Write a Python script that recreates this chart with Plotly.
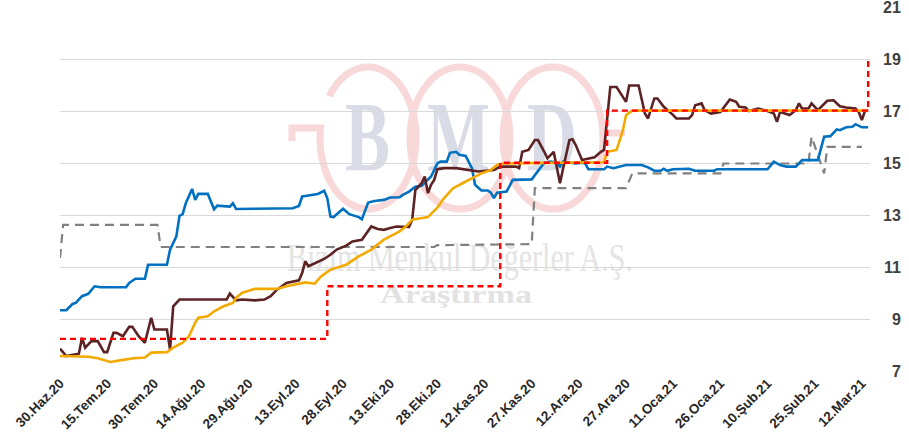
import base64
import plotly.graph_objects as go

# ---------------- data ----------------
blue_dates = ["2020-06-30","2020-07-02","2020-07-04","2020-07-05","2020-07-07","2020-07-09","2020-07-11","2020-07-13",
    "2020-07-21","2020-07-22","2020-07-24","2020-07-27","2020-07-28","2020-08-03","2020-08-04","2020-08-06","2020-08-07",
    "2020-08-08","2020-08-09","2020-08-11","2020-08-12","2020-08-13","2020-08-16","2020-08-18","2020-08-19","2020-08-23",
    "2020-08-24","2020-08-25","2020-08-31","2020-09-12","2020-09-14","2020-09-15","2020-09-16","2020-09-18","2020-09-20",
    "2020-09-22","2020-09-23","2020-09-24","2020-09-25","2020-09-28","2020-09-30","2020-10-03","2020-10-04","2020-10-06",
    "2020-10-08","2020-10-11","2020-10-13","2020-10-16","2020-10-17","2020-10-19","2020-10-21","2020-10-23","2020-10-25",
    "2020-10-26","2020-10-28","2020-10-29","2020-10-31","2020-11-01","2020-11-03","2020-11-04","2020-11-06","2020-11-07",
    "2020-11-08","2020-11-09","2020-11-11","2020-11-13","2020-11-14","2020-11-15","2020-11-16","2020-11-19","2020-11-21",
    "2020-11-27","2020-11-29","2020-12-01","2020-12-03","2020-12-05","2020-12-06","2020-12-07","2020-12-11","2020-12-13",
    "2020-12-14","2020-12-15","2020-12-20","2020-12-21","2020-12-23","2020-12-25","2020-12-27","2021-01-01","2021-01-03",
    "2021-01-05","2021-01-07","2021-01-08","2021-01-09","2021-01-11","2021-01-16","2021-01-18","2021-01-24","2021-01-25",
    "2021-02-10","2021-02-12","2021-02-14","2021-02-16","2021-02-19","2021-02-21","2021-02-26","2021-02-28","2021-03-02",
    "2021-03-04","2021-03-05","2021-03-07","2021-03-09","2021-03-10","2021-03-12","2021-03-14"]
blue_values = [9.36,9.36,9.6,9.64,9.9,9.99,10.28,10.24,
    10.24,10.41,10.57,10.57,11.11,11.11,11.69,12.2,12.99,
    13.05,13.47,14.02,13.6,13.83,13.83,13.24,13.38,13.34,
    13.47,13.25,13.26,13.28,13.37,13.73,13.75,13.79,13.83,
    13.95,13.67,12.96,12.94,13.26,13.05,12.94,12.86,13.5,
    13.56,13.6,13.69,13.7,13.79,13.92,14.11,14.14,14.37,
    14.5,15.0,15.07,15.07,15.41,15.45,15.33,15.29,15.07,
    14.82,14.18,13.96,13.96,13.88,13.67,13.88,13.92,14.37,
    14.39,14.69,15.03,15.07,15.03,14.88,15.07,15.0,15.03,
    15.0,14.78,14.78,14.88,14.82,14.88,14.94,14.94,14.85,
    14.72,14.72,14.8,14.72,14.78,14.8,14.72,14.72,14.78,
    14.78,15.07,14.94,14.88,14.88,15.13,15.13,16.03,16.05,
    16.31,16.28,16.39,16.41,16.51,16.39,16.39]

gray_dates = ["2020-06-30","2020-07-01","2020-07-31","2020-08-01","2020-10-27","2020-10-28","2020-11-27","2020-11-28",
    "2020-12-27","2020-12-29","2021-01-26","2021-01-27","2021-02-23","2021-02-24","2021-02-28","2021-03-01","2021-03-12"]
gray_values = [11.37,12.64,12.64,11.79,11.79,11.86,11.9,14.05,
    14.05,14.62,14.62,15.0,15.0,16.03,14.62,15.64,15.64]

red_dates = ["2020-06-30","2020-09-23","2020-09-23","2020-11-17","2020-11-17","2020-12-21","2020-12-21","2021-03-14","2021-03-14"]
red_values = [8.26,8.26,10.28,10.28,15.03,15.03,17.03,17.03,19.03]

gold_dates = ["2020-06-30","2020-07-09","2020-07-12","2020-07-16","2020-07-20","2020-07-24","2020-07-27","2020-07-29",
    "2020-08-03","2020-08-05","2020-08-08","2020-08-10","2020-08-12","2020-08-13","2020-08-16","2020-08-18","2020-08-21",
    "2020-08-24","2020-08-25","2020-08-27","2020-08-31","2020-09-07","2020-09-10","2020-09-16","2020-09-19","2020-09-21",
    "2020-09-24","2020-09-29","2020-10-03","2020-10-07","2020-10-11","2020-10-16","2020-10-18","2020-10-20","2020-10-25",
    "2020-10-28","2020-10-30","2020-11-02","2020-11-05","2020-11-08","2020-11-11","2020-11-14","2020-11-16","2020-11-18",
    "2020-12-20","2020-12-21","2020-12-24","2020-12-26","2020-12-27","2020-12-29","2021-03-14"]
gold_values = [7.6,7.57,7.51,7.37,7.45,7.52,7.54,7.73,
    7.75,7.92,8.11,8.36,8.88,9.07,9.13,9.32,9.51,
    9.64,9.84,10.03,10.18,10.18,10.28,10.43,10.38,10.66,
    10.92,11.11,11.43,11.69,12.07,12.39,12.58,12.84,12.94,
    13.3,13.65,14.05,14.24,14.43,14.62,14.75,14.94,15.0,
    15.05,15.45,15.52,16.28,16.86,17.03,17.03]

price_dates = ["2020-06-30","2020-07-02","2020-07-06","2020-07-07","2020-07-08","2020-07-10","2020-07-12","2020-07-14",
    "2020-07-15","2020-07-17","2020-07-18","2020-07-20","2020-07-22","2020-07-23","2020-07-25","2020-07-27","2020-07-29",
    "2020-07-30","2020-08-03","2020-08-04","2020-08-05","2020-08-07","2020-08-22","2020-08-23","2020-08-25","2020-08-27",
    "2020-08-31","2020-09-03","2020-09-05","2020-09-07","2020-09-10","2020-09-14","2020-09-15","2020-09-16","2020-09-17",
    "2020-09-20","2020-09-22","2020-09-24","2020-09-26","2020-09-29","2020-10-01","2020-10-04","2020-10-07","2020-10-09",
    "2020-10-11","2020-10-13","2020-10-15","2020-10-19","2020-10-20","2020-10-21","2020-10-23","2020-10-24","2020-10-25",
    "2020-10-26","2020-10-27","2020-10-28","2020-10-30","2020-11-03","2020-11-07","2020-11-10","2020-11-15","2020-11-17",
    "2020-11-22","2020-11-23","2020-11-24","2020-11-26","2020-11-28","2020-11-29","2020-12-01","2020-12-02","2020-12-04",
    "2020-12-05","2020-12-06","2020-12-07","2020-12-09","2020-12-10","2020-12-11","2020-12-13","2020-12-15","2020-12-17",
    "2020-12-19","2020-12-20","2020-12-22","2020-12-24","2020-12-27","2020-12-28","2020-12-31","2021-01-02","2021-01-03",
    "2021-01-05","2021-01-06","2021-01-08","2021-01-11","2021-01-12","2021-01-16","2021-01-17","2021-01-18","2021-01-20",
    "2021-01-21","2021-01-23","2021-01-26","2021-01-29","2021-01-31","2021-02-01","2021-02-03","2021-02-04","2021-02-07",
    "2021-02-10","2021-02-12","2021-02-13","2021-02-14","2021-02-17","2021-02-19","2021-02-20","2021-02-21","2021-02-23",
    "2021-02-24","2021-02-26","2021-03-01","2021-03-03","2021-03-05","2021-03-07","2021-03-10","2021-03-11","2021-03-12",
    "2021-03-13","2021-03-14"]
price_values = [7.88,7.6,7.69,8.3,7.92,8.17,8.17,7.75,
    7.75,8.49,8.49,8.36,8.72,8.72,8.36,8.11,9.07,
    8.62,8.62,7.85,9.51,9.77,9.77,10.0,9.74,9.77,
    9.74,9.77,9.9,10.15,10.41,10.51,10.79,11.24,11.05,
    11.2,11.33,11.49,11.69,11.84,12.0,12.07,12.58,12.48,
    12.45,12.52,12.58,12.56,12.84,13.98,14.24,14.5,13.86,
    14.18,14.37,14.78,14.82,14.82,14.75,14.69,14.75,14.88,
    14.88,14.82,15.45,15.52,15.9,15.9,15.45,15.2,15.45,
    14.88,14.24,14.82,15.9,15.93,15.71,15.13,15.2,15.24,
    15.45,15.52,17.94,17.94,17.37,18.0,18.0,16.92,16.73,
    17.5,17.5,17.18,16.86,16.73,16.73,16.86,17.24,17.31,
    17.05,16.92,16.98,17.46,17.37,17.18,17.15,17.02,17.11,
    17.02,16.92,16.6,16.98,16.86,17.05,17.31,17.11,17.11,
    17.31,17.05,17.41,17.43,17.2,17.15,17.11,16.98,16.67,
    17.02,17.05]

tick_dates = ["2020-06-30","2020-07-15","2020-07-30","2020-08-14","2020-08-29","2020-09-13","2020-09-28","2020-10-13",
    "2020-10-28","2020-11-12","2020-11-27","2020-12-12","2020-12-27","2021-01-11","2021-01-26","2021-02-10","2021-02-25",
    "2021-03-12"]
tick_labels = ["30.Haz.20","15.Tem.20","30.Tem.20","14.Ağu.20","29.Ağu.20","13.Eyl.20","28.Eyl.20","13.Eki.20",
    "28.Eki.20","12.Kas.20","27.Kas.20","12.Ara.20","27.Ara.20","11.Oca.21","26.Oca.21","10.Şub.21","25.Şub.21",
    "12.Mar.21"]
y_ticks = [7, 9, 11, 13, 15, 17, 19, 21]

# ---------------- watermark (svg image behind plot) ----------------
svg = """<svg xmlns="http://www.w3.org/2000/svg" width="810" height="365" viewBox="0 0 810 365">
<g fill="none" stroke="#f8d8d8" stroke-width="7" stroke-linecap="butt">
<path d="M 269.2 89.3 A 48 71 0 1 1 260.5 121.1 L 232 121.1 L 232 134"/>
<ellipse cx="400" cy="131" rx="50" ry="71"/>
<ellipse cx="493" cy="131" rx="50" ry="71"/>
<path d="M 541 126 L 565 126"/>
</g>
<g font-family="Liberation Serif, serif" font-weight="bold" fill="#d9dce6" font-size="100">
<text x="285" y="163" textLength="45" lengthAdjust="spacingAndGlyphs">B</text>
<text x="367" y="163" textLength="63" lengthAdjust="spacingAndGlyphs">M</text>
<text x="467" y="163" textLength="50" lengthAdjust="spacingAndGlyphs">D</text>
</g>
<text x="227" y="264" font-family="Liberation Serif, serif" font-size="40" fill="#e4e4e4" textLength="346" lengthAdjust="spacingAndGlyphs">Bizim Menkul Değerler A.Ş.</text>
<text x="320" y="296" font-family="Liberation Serif, serif" font-weight="bold" font-size="26" fill="#e2e2e2" textLength="152" lengthAdjust="spacingAndGlyphs">Araştırma</text>
</svg>"""
svg_uri = "data:image/svg+xml;base64," + base64.b64encode(svg.encode("utf-8")).decode("ascii")

fig = go.Figure()
fig.add_trace(go.Scatter(x=gray_dates, y=gray_values, mode="lines",
                         line=dict(color="#808080", width=2.2, dash="9px,6px")))
fig.add_trace(go.Scatter(x=blue_dates, y=blue_values, mode="lines",
                         line=dict(color="#0070C0", width=2.6)))
fig.add_trace(go.Scatter(x=price_dates, y=price_values, mode="lines",
                         line=dict(color="#5C2224", width=2.6)))
fig.add_trace(go.Scatter(x=gold_dates, y=gold_values, mode="lines",
                         line=dict(color="#F2AA00", width=2.6)))
fig.add_trace(go.Scatter(x=red_dates, y=red_values, mode="lines",
                         line=dict(color="#FF0000", width=2.4, dash="6px,4px")))

# right-aligned value labels for the y axis
y_label_annotations = [dict(xref="paper", yref="y", x=1, y=v, text=str(v), showarrow=False,
                            xanchor="right", yanchor="middle", xshift=33,
                            font=dict(family="Liberation Sans, Arial", size=16, color="#404040", weight="bold"))
                       for v in y_ticks]

fig.update_layout(
    width=909, height=446, autosize=False,
    margin=dict(l=60, r=39, t=7, b=74),
    paper_bgcolor="white", plot_bgcolor="white",
    showlegend=False,
    annotations=y_label_annotations,
    images=[dict(source=svg_uri, xref="paper", yref="paper", x=0, y=1,
                 sizex=1, sizey=1, xanchor="left", yanchor="top",
                 sizing="stretch", layer="below")],
)
fig.update_xaxes(type="date", range=["2020-06-30", "2021-03-14 14:00"],
                 tickvals=tick_dates, ticktext=tick_labels, tickangle=-45,
                 showgrid=False, showline=False, zeroline=False, ticks="",
                 tickfont=dict(family="Liberation Sans, Arial", size=13.5, color="#262626", weight="bold"))
fig.update_yaxes(side="right", range=[6.985, 21.015], tickvals=y_ticks, showticklabels=False,
                 showgrid=True, gridcolor="#d9d9d9", gridwidth=1, zeroline=False, showline=False,
                 ticks="")

fig.write_html("out.html", config={"displayModeBar": False},
               post_script="document.body.style.margin='0';document.body.style.overflow='hidden';")
